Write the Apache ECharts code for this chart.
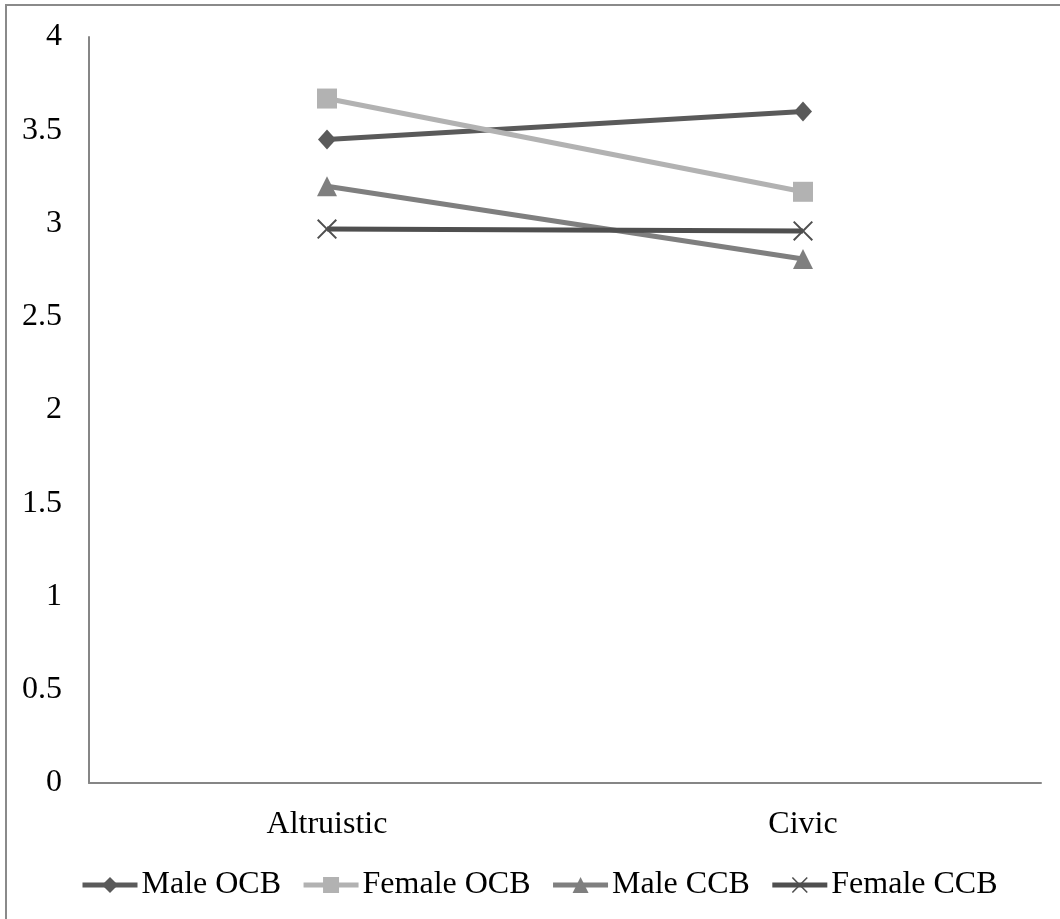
<!DOCTYPE html>
<html>
<head>
<meta charset="utf-8">
<script src="https://cdn.jsdelivr.net/npm/echarts@6/dist/echarts.min.js"></script>
<style>
  html, body { margin: 0; padding: 0; background: #fff; }
  #chart { width: 1060px; height: 919px; }
</style>
</head>
<body>
<div id="chart"></div>
<script>
// Mean scores by behaviour type
const categories = ['Altruistic', 'Civic'];
const maleOCB = [3.45, 3.60];
const femaleOCB = [3.67, 3.17];
const maleCCB = [3.20, 2.81];
const femaleCCB = [2.97, 2.96];
const yTicks = { min: 0, max: 4, interval: 0.5 };

const font = 'Liberation Serif, Times New Roman, serif';
const crossPath = 'path://M0,1.4L1.4,0L10,8.6L18.6,0L20,1.4L11.4,10L20,18.6L18.6,20L10,11.4L1.4,20L0,18.6L8.6,10Z';

function lineSeries(name, data, color, symbol, size) {
  return {
    name: name,
    type: 'line',
    data: data,
    symbol: symbol,
    symbolSize: size,
    showAllSymbol: true,
    lineStyle: { color: color, width: 5 },
    itemStyle: { color: color },
    emphasis: { disabled: true }
  };
}

const chart = echarts.init(document.getElementById('chart'), null, { renderer: 'canvas' });
chart.setOption({
  animation: false,
  backgroundColor: '#ffffff',
  textStyle: { fontFamily: font, color: '#000' },
  graphic: [{
    type: 'rect',
    shape: { x: 6, y: 5, width: 1100, height: 1000 },
    style: { fill: 'none', stroke: '#8a8a8a', lineWidth: 2 },
    silent: true
  }],
  grid: { left: 89, right: 19, top: 37, bottom: 136, containLabel: false },
  xAxis: {
    type: 'category',
    data: categories,
    boundaryGap: true,
    axisLine: { lineStyle: { color: '#868686', width: 2 } },
    axisTick: { show: false },
    axisLabel: { fontFamily: font, fontSize: 32, color: '#000', margin: 26 }
  },
  yAxis: {
    type: 'value',
    min: yTicks.min,
    max: yTicks.max,
    interval: yTicks.interval,
    axisLine: { show: true, lineStyle: { color: '#868686', width: 2 } },
    axisTick: { show: false },
    splitLine: { show: false },
    axisLabel: { fontFamily: font, fontSize: 32, color: '#000', margin: 27 }
  },
  legend: {
    bottom: 13,
    left: 75,
    padding: 5,
    itemWidth: 55,
    itemHeight: 20,
    itemGap: 20,
    lineStyle: { width: 5 },
    textStyle: { fontFamily: font, fontSize: 32, color: '#000', padding: [0, 0, 0, -1] },
    data: ['Male OCB', 'Female OCB', 'Male CCB', 'Female CCB']
  },
  series: [
    lineSeries('Male OCB', maleOCB, '#5a5a5a', 'diamond', [18, 20]),
    lineSeries('Female OCB', femaleOCB, '#b2b2b2', 'rect', 20),
    lineSeries('Male CCB', maleCCB, '#7f7f7f', 'triangle', 20),
    lineSeries('Female CCB', femaleCCB, '#4f4f4f', crossPath, 20)
  ]
});
</script>
</body>
</html>
